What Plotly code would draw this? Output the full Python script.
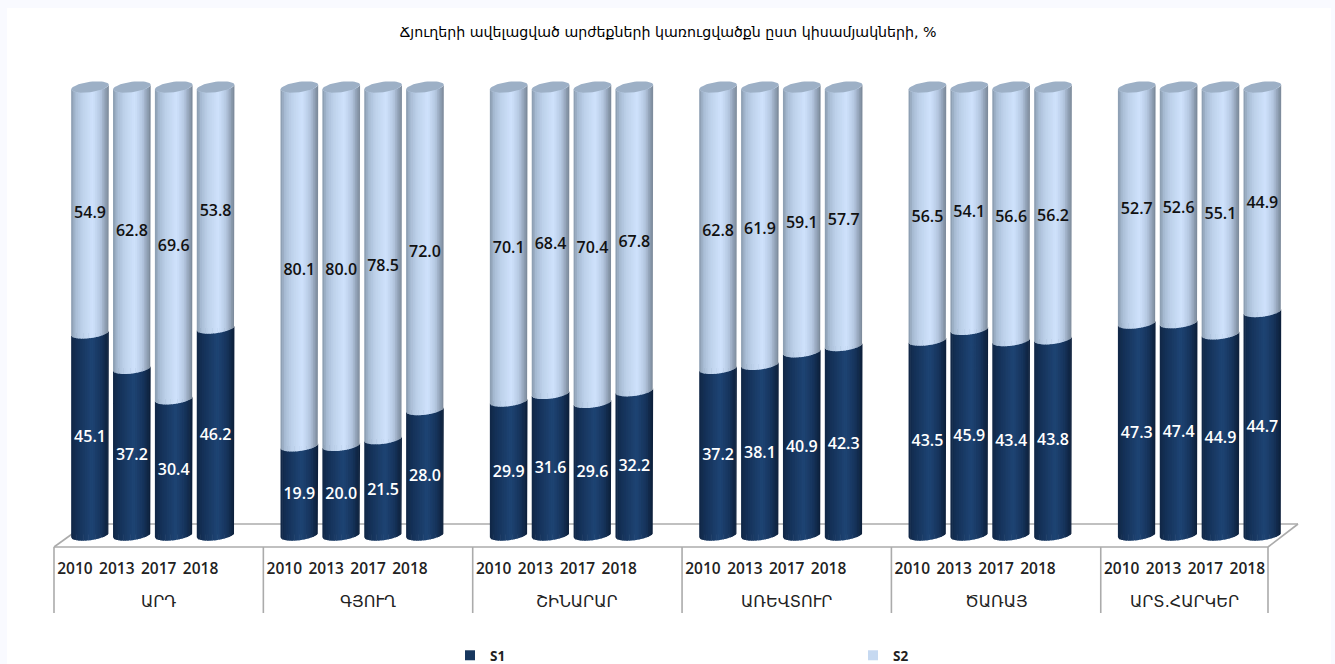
import numpy as np
import plotly.graph_objects as go

groups = ["ԱՐԴ", "ԳՅՈՒՂ", "ՇԻՆԱՐԱՐ", "ԱՌԵՎՏՈՒՐ", "ԾԱՌԱՅ", "ԱՐՏ.ՀԱՐԿԵՐ"]
years = ["2010", "2013", "2017", "2018"]
s1 = [45.1, 37.2, 30.4, 46.2, 19.9, 20.0, 21.5, 28.0, 29.9, 31.6, 29.6, 32.2,
      37.2, 38.1, 40.9, 42.3, 43.5, 45.9, 43.4, 43.8, 47.3, 47.4, 44.9, 44.7]
s2 = [54.9, 62.8, 69.6, 53.8, 80.1, 80.0, 78.5, 72.0, 70.1, 68.4, 70.4, 67.8,
      62.8, 61.9, 59.1, 57.7, 56.5, 54.1, 56.6, 56.2, 52.7, 52.6, 55.1, 44.9]
title = "Ճյուղերի ավելացված արժեքների կառուցվածքն ըստ կիսամյակների, %"

W, H = 1335, 664
L, R, T, B = 40, 1300, 60, 555        # plot area in page pixels
SLOT = 41.87                          # pixels per bar slot
PXY = 4.48                            # pixels per percentage point
X0, Y0 = 90, 535                      # pixel of first bar / of the zero line
xr = [(L - X0) / SLOT, (R - X0) / SLOT]
yr = [(Y0 - B) / PXY, (Y0 - T) / PXY]
px = lambda v: (v - L) / (R - L)
py = lambda v: (B - v) / (B - T)

a1 = np.array(s1, float)
a2 = np.array(s2, float)
frac1 = a1 / (a1 + a2) * 100
xpos = np.array([g * 5 + i for g in range(len(groups)) for i in range(len(years))], float)

HALF = 0.45       # half bar width, slots
ELL = 5.2 / PXY   # ellipse half height, data units
SH = 2.3 / PXY    # tilt of the ellipse, data units


def mix(stops, t):
    ts = [s[0] for s in stops]
    rgb = [np.interp(t, ts, [s[1][c] for s in stops]) for c in range(3)]
    return "rgb(%d,%d,%d)" % tuple(int(round(c)) for c in rgb)


light = [(0, (136, 153, 173)), (.12, (168, 188, 212)), (.3, (190, 210, 235)), (.58, (207, 226, 252)),
         (.78, (180, 199, 224)), (.92, (140, 156, 176)), (1, (120, 134, 150))]
dark = [(0, (16, 38, 70)), (.15, (20, 48, 86)), (.55, (30, 68, 116)),
        (.8, (22, 52, 92)), (1, (12, 30, 56))]

fig = go.Figure()
# underlying stacked bars
fig.add_bar(x=xpos, y=a1, width=0.8, marker_color="#17375E", showlegend=False, hoverinfo="skip")
fig.add_bar(x=xpos, y=a2, width=0.8, marker_color="#C6D9F1", showlegend=False, hoverinfo="skip")

NS = 22
edges = np.linspace(-1, 1, NS + 1)


def front(u, v):
    return v - ELL * np.sqrt(np.clip(1 - u * u, 0, 1)) + SH * u


for part, stops in (("low", dark), ("high", light)):
    for k in range(NS):
        us = np.linspace(edges[k], min(edges[k + 1] + 0.03, 1), 5)
        xs, ys = [], []
        for cx, v in zip(xpos, frac1):
            lo, hi = (0.0, v) if part == "low" else (v, 100.0)
            px_ = cx + us * HALF
            xs += list(px_) + list(px_[::-1]) + [None]
            ys += list(front(us, hi)) + list(front(us[::-1], lo)) + [None]
        fig.add_trace(go.Scatter(x=xs, y=ys, mode="lines", fill="toself", line_width=0,
                                 fillcolor=mix(stops, (k + .5) / NS), showlegend=False, hoverinfo="skip"))

# top caps
th = np.linspace(0, 2 * np.pi, 49)
xs, ys = [], []
for cx in xpos:
    u = np.cos(th)
    xs += list(cx + u * HALF) + [None]
    ys += list(100 + ELL * np.sin(th) + SH * u) + [None]
fig.add_trace(go.Scatter(x=xs, y=ys, mode="lines", fill="toself", line_width=0, fillcolor="#9DB0C6",
                         showlegend=False, hoverinfo="skip"))

# value labels
lab_font = dict(family="Open Sans, DejaVu Sans", size=16, weight=600)
fig.add_trace(go.Scatter(x=xpos, y=frac1 / 2 - 1, mode="text", text=["%.1f" % v for v in a1],
                         textfont=dict(color="white", **lab_font), showlegend=False, hoverinfo="skip"))
fig.add_trace(go.Scatter(x=xpos, y=frac1 + (100 - frac1) / 2 - 1, mode="text", text=["%.1f" % v for v in a2],
                         textfont=dict(color="#111111", **lab_font), showlegend=False, hoverinfo="skip"))

# legend entries
for name, col in (("S1", "#17375E"), ("S2", "#C6D9F1")):
    fig.add_trace(go.Scatter(x=[None], y=[None], mode="markers", name=name,
                             marker=dict(symbol="square", size=10, color=col)))

GRID = "#ABABAB"
shapes = [dict(type="rect", xref="paper", yref="paper", x0=px(7), x1=px(1331), y0=py(8), y1=py(H),
               fillcolor="white", line_width=0, layer="below")]


def seg(x0, y0, x1, y1):
    shapes.append(dict(type="line", xref="paper", yref="paper", x0=px(x0), y0=py(y0), x1=px(x1), y1=py(y1),
                       line=dict(color=GRID, width=1.6), layer="below"))


seps = [54 + g * 5 * SLOT for g in range(len(groups))] + [1268]
seg(54, 547, 1268, 547)
seg(54, 547, 86, 524)
seg(86, 524, 1298, 524)
seg(1268, 547, 1298, 524)
for xg in seps:
    seg(xg, 547, xg, 613)

annotations = [dict(text=name, xref="paper", yref="paper", x=px((seps[g] + seps[g + 1]) / 2), y=py(601),
                    xanchor="center", yanchor="middle", showarrow=False,
                    font=dict(family="DejaVu Sans", size=16, color="#222222"))
               for g, name in enumerate(groups)]

fig.update_layout(
    width=W, height=H, margin=dict(l=L, r=W - R, t=T, b=H - B, autoexpand=False),
    paper_bgcolor="#F9FAFF", plot_bgcolor="rgba(0,0,0,0)",
    barmode="stack", barnorm="percent", bargap=0,
    title=dict(text=title, x=668 / W, xanchor="center", y=1 - 32 / H, yanchor="middle",
               font=dict(family="DejaVu Sans", size=14.2, color="#000000")),
    xaxis=dict(range=xr, showgrid=False, zeroline=False, showline=False, ticks="", fixedrange=True,
               tickmode="array", tickvals=xpos - 0.36, ticktext=years * len(groups), tickangle=0,
               ticklabelstandoff=2,
               tickfont=dict(family="Open Sans, DejaVu Sans", size=15.5, weight=600, color="#222222")),
    yaxis=dict(range=yr, visible=False, fixedrange=True),
    legend=dict(orientation="h", traceorder="normal", x=px(450), xanchor="left", y=py(640), yanchor="top",
                entrywidth=358, entrywidthmode="pixels", bgcolor="rgba(0,0,0,0)",
                font=dict(family="Open Sans, DejaVu Sans", size=13.5, weight=700, color="#222222")),
    shapes=shapes, annotations=annotations,
)

fig.write_html("out.html", post_script="document.body.style.margin='0';document.body.style.overflow='hidden';",
               config=dict(displayModeBar=False))
